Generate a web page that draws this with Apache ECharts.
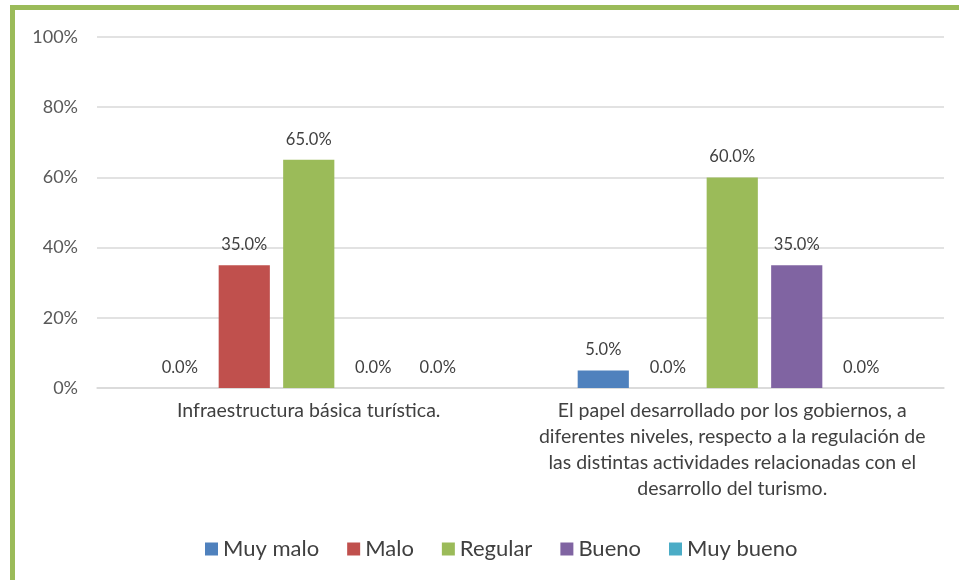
<!doctype html>
<html>
<head>
<meta charset="UTF-8">
<title>Valoración</title>
<script src="https://cdn.jsdelivr.net/npm/echarts@6/dist/echarts.min.js"></script>
<style>
  html, body { margin: 0; padding: 0; background: #fff; }
  #main { position: absolute; left: 0; top: 0; width: 959px; height: 580px; }
  #frame { position: absolute; left: 10px; top: 5px; right: 0; bottom: 0;
           border-left: 5px solid #9BBB59; border-top: 5px solid #9BBB59; pointer-events: none; }
</style>
</head>
<body>
<div id="main"></div>
<div id="frame"></div>
<script>
var categories = [
  'Infraestructura básica turística.',
  'El papel desarrollado por los gobiernos, a\ndiferentes niveles, respecto a la regulación de\nlas distintas actividades relacionadas con el\ndesarrollo del turismo.'
];
var seriesNames = ['Muy malo', 'Malo', 'Regular', 'Bueno', 'Muy bueno'];
var muyMalo = [0, 5];
var malo = [35, 0];
var regular = [65, 60];
var bueno = [0, 35];
var muyBueno = [0, 0];
var colors = ['#4F81BD', '#C0504D', '#9BBB59', '#8064A2', '#4BACC6'];

var values = [muyMalo, malo, regular, bueno, muyBueno];
var font = 'Lato, "Open Sans", sans-serif';

var myChart = echarts.init(document.getElementById('main'));
var series = [];
for (var i = 0; i < seriesNames.length; i++) {
  series.push({
    name: seriesNames[i],
    type: 'bar',
    data: values[i],
    barGap: '26%',
    barCategoryGap: '27%',
    itemStyle: { color: colors[i] },
    label: {
      show: true,
      position: 'top',
      distance: 12,
      color: '#404040',
      fontSize: 16.5,
      fontFamily: font,
      formatter: function (p) { return p.value.toFixed(1) + '%'; }
    }
  });
}

var option = {
  animation: false,
  color: colors,
  grid: { left: 97, right: 15, top: 37, bottom: 192, containLabel: false },
  legend: {
    data: seriesNames,
    left: 200,
    top: 533,
    itemWidth: 13,
    itemHeight: 13,
    itemGap: 28,
    icon: 'rect',
    textStyle: { fontSize: 22, color: '#404040', fontFamily: font }
  },
  xAxis: {
    type: 'category',
    data: categories,
    axisLine: { lineStyle: { color: '#d9d9d9', width: 1.5 } },
    axisTick: { show: false },
    axisLabel: {
      interval: 0,
      margin: 10,
      color: '#404040',
      fontSize: 19.5,
      lineHeight: 26,
      fontFamily: font
    }
  },
  yAxis: {
    type: 'value',
    min: 0,
    max: 100,
    interval: 20,
    axisLine: { show: false },
    axisTick: { show: false },
    splitLine: { lineStyle: { color: '#d9d9d9', width: 1.5 } },
    axisLabel: {
      margin: 19,
      color: '#595959',
      fontSize: 18,
      fontFamily: font,
      formatter: '{value}%'
    }
  },
  series: series
};
myChart.setOption(option);
</script>
</body>
</html>
